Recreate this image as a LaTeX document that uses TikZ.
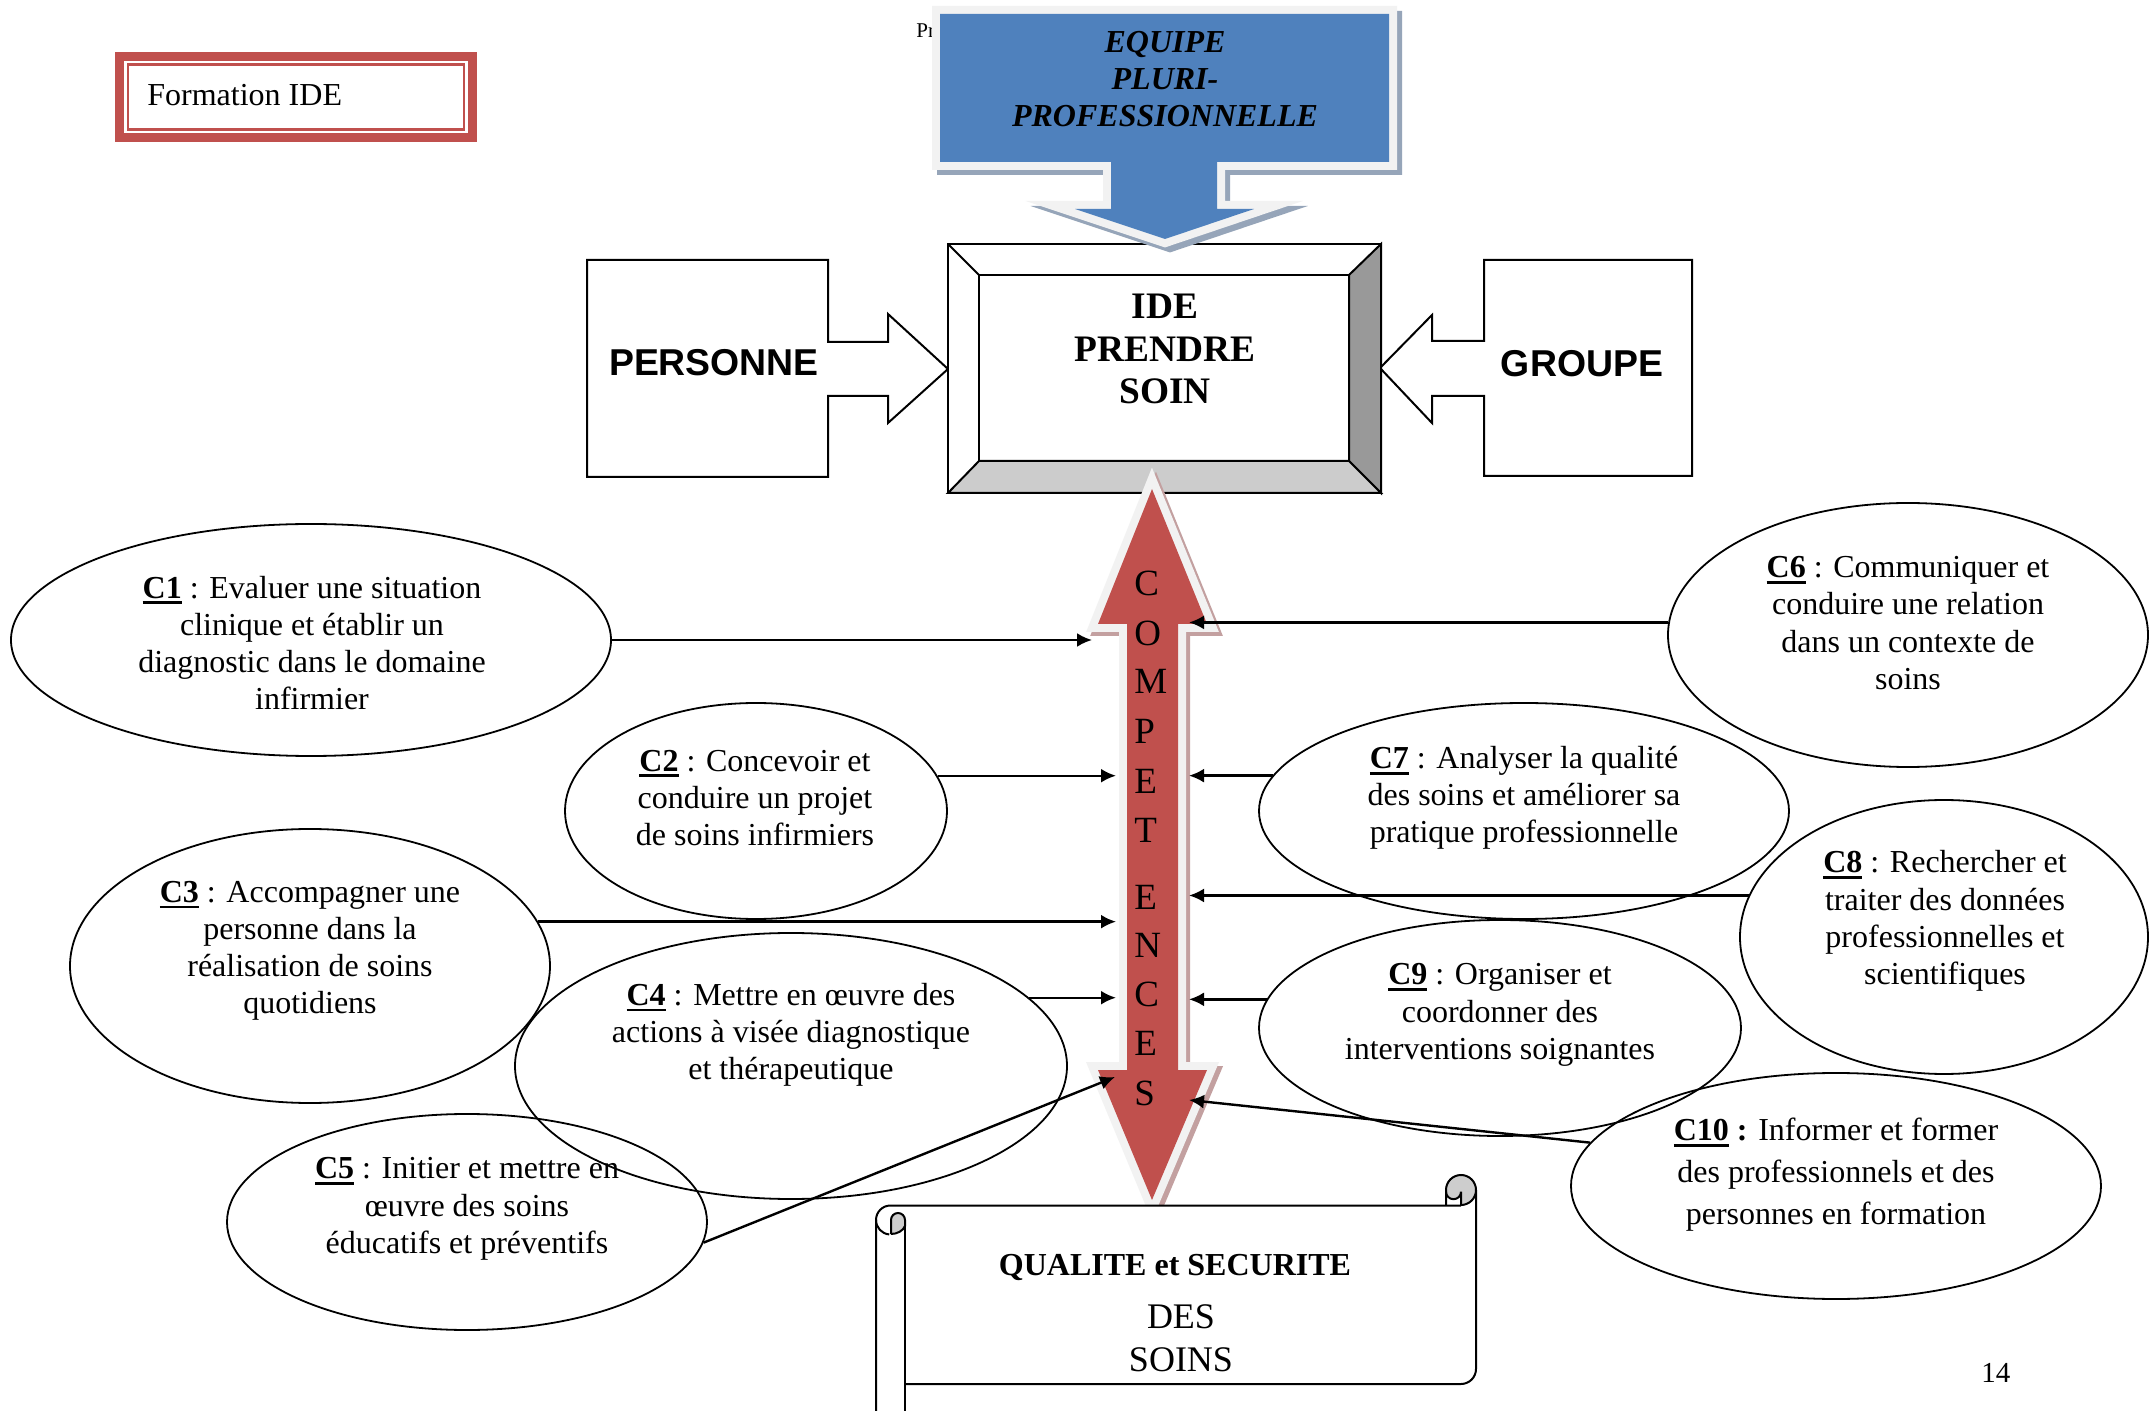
\documentclass[tikz,border=0pt]{standalone}
\usepackage{fontspec}
\setmainfont{Liberation Serif}
\newfontfamily\arialfont{Liberation Sans}
\usetikzlibrary{shapes.geometric,arrows.meta}
\definecolor{redarrow}{RGB}{192,80,77}
\definecolor{redshadow}{RGB}{195,160,160}
\definecolor{rimwhite}{RGB}{242,242,242}
\definecolor{bluearrow}{RGB}{79,129,189}
\definecolor{blueshadow}{RGB}{150,165,185}
\definecolor{formred}{RGB}{192,80,77}
\definecolor{bevdark}{RGB}{153,153,153}
\definecolor{bevlight}{RGB}{204,204,204}
\definecolor{scrollgray}{RGB}{205,205,205}
\newsavebox\cmpbox
\newcommand{\cmpid}[1]{\sbox\cmpbox{\bfseries #1}\rlap{\rule[-3pt]{\wd\cmpbox}{1.4pt}}\usebox\cmpbox}
\tikzset{
  comp/.style={ellipse, draw, line width=0.9pt, inner sep=0pt},
  ctext/.style={align=center, inner sep=0pt, font=\fontsize{16pt}{18.6pt}\selectfont},
  conn/.style={-{Latex[length=7.5pt,width=7pt]}, line width=1.2pt},
  letter/.style={anchor=west, inner sep=0pt, font=\fontsize{18.5pt}{20pt}\selectfont},
  boxline/.style={line width=1pt},
}
\begin{document}
\begin{tikzpicture}[x=0.5pt,y=-0.5pt]
\useasboundingbox (0,0) rectangle (2149,1411);
\fill[white] (0,0) rectangle (2149,1411);

% Formation IDE
\draw[formred, line width=4.5pt] (119.5,56.5) rectangle (472.5,137.5);
\draw[formred, line width=1.1pt] (128,64.5) rectangle (464,129.5);
\node[anchor=west, inner sep=0pt, font=\fontsize{16pt}{18.6pt}\selectfont] (fide) at (147,95) {Formation IDE};

% small text partly hidden
\node[anchor=base west, inner sep=0pt, font=\fontsize{10.5pt}{12pt}\selectfont] (pr) at (916,38) {Pr};

% PERSONNE
\draw[boxline, fill=white] (587,260) -- (828,260) -- (828,342) -- (888,342) -- (888,314) -- (948,369) -- (888,423) -- (888,396) -- (828,396) -- (828,477) -- (587,477) -- cycle;
\node[inner sep=0pt, font=\arialfont\bfseries\fontsize{18.7pt}{20pt}\selectfont] (pers) at (714,363) {PERSONNE};

% GROUPE
\draw[boxline, fill=white] (1692,260) -- (1484,260) -- (1484,341) -- (1432,341) -- (1432,315) -- (1380,368) -- (1432,423) -- (1432,396) -- (1484,396) -- (1484,476) -- (1692,476) -- cycle;
\node[inner sep=0pt, font=\arialfont\bfseries\fontsize{18.7pt}{20pt}\selectfont] (grp) at (1582,364) {GROUPE};

% IDE bevel box
\fill[white] (948,244) rectangle (1381,493);
\filldraw[boxline, fill=bevdark] (1381,244) -- (1349,275) -- (1349,461) -- (1381,493) -- cycle;
\filldraw[boxline, fill=bevlight] (948,493) -- (979,461) -- (1349,461) -- (1381,493) -- cycle;
\draw[boxline] (948,244) rectangle (1381,493);
\draw[boxline] (979,275) rectangle (1349,461);
\draw[boxline] (948,244) -- (979,275);
\node[align=center, inner sep=0pt, font=\bfseries\fontsize{18.7pt}{21.3pt}\selectfont] (ide) at (1165,349) {IDE\\PRENDRE\\SOIN};

% Blue arrow
\draw[blueshadow, fill=blueshadow, line width=8pt, line join=miter, miter limit=20, shift={(5,5)}]
  (940,14) -- (1389,14) -- (1389,162) -- (1217,162) -- (1217,209) -- (1254,209) -- (1165,239) -- (1075,209) -- (1111,209) -- (1111,162) -- (940,162) -- cycle;
\draw[rimwhite, line width=8pt, line join=miter, miter limit=20]
  (940,14) -- (1389,14) -- (1389,162) -- (1217,162) -- (1217,209) -- (1254,209) -- (1165,239) -- (1075,209) -- (1111,209) -- (1111,162) -- (940,162) -- cycle;
\fill[bluearrow]
  (940,14) -- (1389,14) -- (1389,162) -- (1217,162) -- (1217,209) -- (1254,209) -- (1165,239) -- (1075,209) -- (1111,209) -- (1111,162) -- (940,162) -- cycle;
\node[align=center, inner sep=0pt, font=\bfseries\itshape\fontsize{16pt}{18.5pt}\selectfont] (equipe) at (1165,79) {EQUIPE\\PLURI-\\PROFESSIONNELLE};

% Red double arrow
\draw[redshadow, fill=redshadow, line width=8pt, line join=miter, miter limit=20, shift={(4,4)}]
  (1152,489) -- (1207,624) -- (1178,624) -- (1178,1070) -- (1207,1070) -- (1152,1200) -- (1098,1070) -- (1127,1070) -- (1127,624) -- (1098,624) -- cycle;
\draw[rimwhite, line width=8pt, line join=miter, miter limit=20]
  (1152,489) -- (1207,624) -- (1178,624) -- (1178,1070) -- (1207,1070) -- (1152,1200) -- (1098,1070) -- (1127,1070) -- (1127,624) -- (1098,624) -- cycle;
\fill[redarrow]
  (1152,489) -- (1207,624) -- (1178,624) -- (1178,1070) -- (1207,1070) -- (1152,1200) -- (1098,1070) -- (1127,1070) -- (1127,624) -- (1098,624) -- cycle;
\foreach \l/\yy [count=\i] in {C/583,O/633,M/681,P/731,E/781,T/830,E/897,N/945,C/994,E/1043,S/1093}
  \node[letter] (L\i) at (1134,\yy) {\l};

% Scroll
\fill[white] (876,1420) -- (876,1220) arc[start angle=180, end angle=270, radius=14.5] -- (1446,1205.5) -- (1446,1190) arc[start angle=180, end angle=360, radius=15] -- (1476,1369) arc[start angle=0, end angle=90, radius=15] -- (905,1384) -- (905,1420) -- cycle;
\fill[scrollgray] (1461,1190) circle[radius=15];
\fill[white] (1446,1205.5) -- (1461,1205.5) -- (1461,1191.7) arc[start angle=0, end angle=180, radius=7.5] -- cycle;
\draw[line width=1pt] (876,1420) -- (876,1220) arc[start angle=180, end angle=270, radius=14.5] -- (1461,1205.5);
\draw[line width=1pt] (1446,1205.5) -- (1446,1190) arc[start angle=180, end angle=450, radius=15];
\draw[line width=1pt] (1461,1205.5) -- (1461,1191.7) arc[start angle=0, end angle=180, radius=7.5];
\draw[line width=1pt] (1476,1190) -- (1476,1369) arc[start angle=0, end angle=90, radius=15] -- (905,1384);
\draw[line width=1pt] (876,1220) arc[start angle=180, end angle=95, radius=14.5];
\filldraw[line width=1pt, fill=scrollgray] (891,1234) -- (891,1220) arc[start angle=180, end angle=360, radius=7] -- (905,1226) .. controls (903,1231) and (897,1234) .. (891,1234);
\draw[line width=1pt] (905,1226) -- (905,1420);
\node[inner sep=0pt, font=\bfseries\fontsize{16pt}{19pt}\selectfont] (qual) at (1175,1267) {QUALITE et SECURITE};
\node[align=center, inner sep=0pt, font=\fontsize{18pt}{21.5pt}\selectfont] (des) at (1181,1338) {DES\\SOINS};

% page number
\node[anchor=base west, inner sep=0pt, font=\fontsize{14.5pt}{16pt}\selectfont] (pg) at (1981,1382) {14};

% Competence ellipses
\node[comp, minimum width=300pt, minimum height=116pt] (c1) at (311,640) {};
\node[comp, minimum width=191pt, minimum height=108pt] (c2) at (756,811) {};
\node[comp, minimum width=240pt, minimum height=137pt] (c3) at (310,966) {};
\node[comp, minimum width=276pt, minimum height=133pt] (c4) at (791,1066) {};
\node[comp, minimum width=240pt, minimum height=108pt] (c5) at (467,1222) {};
\node[comp, minimum width=240pt, minimum height=132pt] (c6) at (1908,635) {};
\node[comp, minimum width=265pt, minimum height=108pt] (c7) at (1524,811) {};
\node[comp, minimum width=204pt, minimum height=137pt] (c8) at (1944,937) {};
\node[comp, minimum width=241pt, minimum height=108pt] (c9) at (1500,1028) {};
\node[comp, minimum width=265pt, minimum height=113pt] (c10) at (1836,1186) {};

\node[ctext] (t1) at (312,643) {\cmpid{C1} : Evaluer une situation\\clinique et établir un\\diagnostic dans le domaine\\infirmier};
\node[ctext] (t2) at (755,798) {\cmpid{C2} : Concevoir et\\conduire un projet\\de soins infirmiers};
\node[ctext] (t3) at (310,951) {\cmpid{C3} : Accompagner une\\personne dans la\\réalisation de soins\\quotidiens};
\node[ctext] (t4) at (791,1035) {\cmpid{C4} : Mettre en œuvre des\\actions à visée diagnostique\\et thérapeutique};
\node[ctext] (t5) at (467,1209) {\cmpid{C5} : Initier et mettre en\\œuvre des soins\\éducatifs et préventifs};
\node[ctext] (t6) at (1908,623) {\cmpid{C6} : Communiquer et\\conduire une relation\\dans un contexte de\\soins};
\node[ctext] (t7) at (1524,798) {\cmpid{C7} : Analyser la qualité\\des soins et améliorer sa\\pratique professionnelle};
\node[ctext] (t8) at (1945,921) {\cmpid{C8} : Rechercher et\\traiter des données\\professionnelles et\\scientifiques};
\node[ctext] (t9) at (1500,1015) {\cmpid{C9} : Organiser et\\coordonner des\\interventions soignantes};
\node[ctext, font=\fontsize{16pt}{21pt}\selectfont] (t10) at (1836,1175) {\cmpid{C10} \textbf{:} Informer et former\\des professionnels et des\\personnes en formation};

% arrow targets on the competence arrow
\coordinate (headL) at (1092,0);
\coordinate (shaftL) at (1116,0);
\coordinate (shaftR) at (1189,0);
\coordinate (a5) at (1115,1077);
\coordinate (a10) at (1189,1100);

% connectors
\draw[conn] (c1.east) -- (c1.east -| headL);
\draw[conn] (c2.11) -- (c2.11 -| shaftL);
\draw[conn] (c3.11.5) -- (c3.11.5 -| shaftL);
\draw[conn] (c4.16) -- (c4.16 -| shaftL);
\draw[conn] (c5.-5) -- (a5);
\draw[conn] (c6.177) -- (c6.177 -| shaftR);
\draw[conn] (c7.172) -- (c7.172 -| shaftR);
\draw[conn] (c8.168) -- (c8.168 -| shaftR);
\draw[conn] (c9.173) -- (c9.173 -| shaftR);
\draw[conn] (c10.170.5) -- (a10);
\end{tikzpicture}
\end{document}
